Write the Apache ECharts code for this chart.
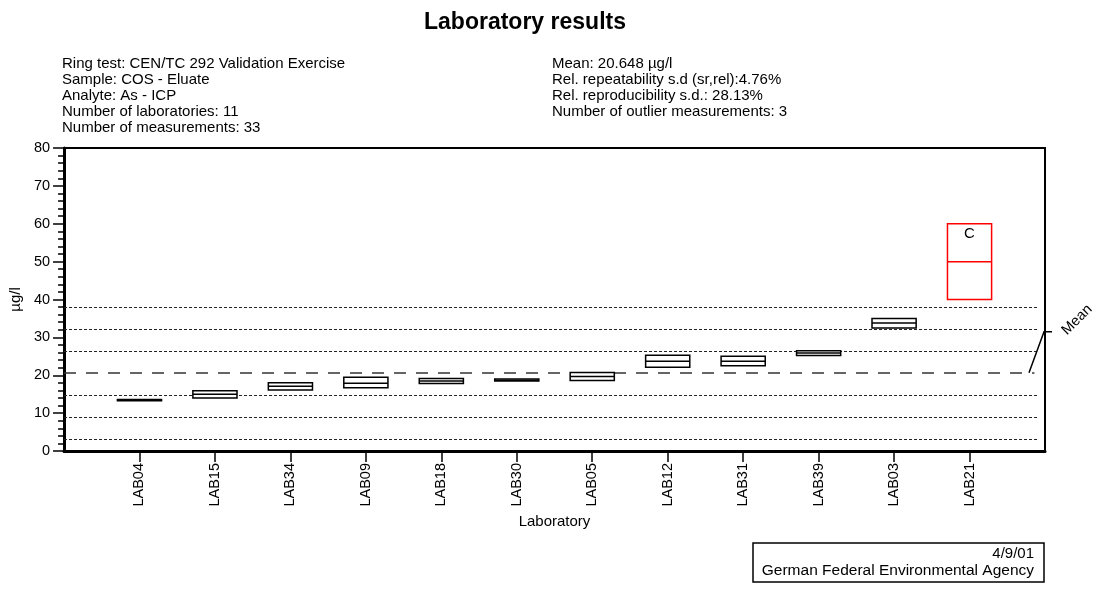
<!DOCTYPE html>
<html>
<head>
<meta charset="utf-8">
<script src="https://cdn.jsdelivr.net/npm/echarts@6/dist/echarts.min.js"></script>
<style>
  html, body { margin: 0; padding: 0; background: #fff; }
  #chart { width: 1120px; height: 599px; }
</style>
</head>
<body>
<div id="chart"></div>
<script>
// laboratories in plotted order
var labs = ['LAB04', 'LAB15', 'LAB34', 'LAB09', 'LAB18', 'LAB30', 'LAB05', 'LAB12', 'LAB31', 'LAB39', 'LAB03', 'LAB21'];
// box bottom / middle / top per lab (µg/l)
var lowVals  = [13.3, 14.0, 16.1, 16.7, 17.8, 18.5, 18.6, 22.1, 22.5, 25.2, 32.5, 40.0];
var midVals  = [13.45, 15.0, 17.1, 17.9, 18.5, 18.7, 19.7, 23.7, 23.7, 25.85, 33.8, 50.0];
var highVals = [13.6, 15.9, 18.0, 19.5, 19.15, 19.0, 20.7, 25.3, 25.0, 26.45, 35.0, 60.0];
// outlier flags (red box + letter)
var flags = ['', '', '', '', '', '', '', '', '', '', '', 'C'];
var MEAN = 20.648;
// dotted limit lines
var limitVals = [3.22, 9.03, 14.84, 26.46, 32.26, 38.07];
var yTicks = [0, 10, 20, 30, 40, 50, 60, 70, 80];

var FONT = 'Liberation Sans, Arial, sans-serif';
var labPos = labs.map(function (l, i) { return i + 1; });

var chart = echarts.init(document.getElementById('chart'));

function txt(s, size, extra) {
    var st = { text: s, fontSize: size, fontFamily: FONT, fill: '#000' };
    for (var k in extra) st[k] = extra[k];
    return st;
}

function renderBox(params, api) {
    var x = api.value(0);
    var pLow = api.coord([x, api.value(1)]);
    var pMid = api.coord([x, api.value(2)]);
    var pHigh = api.coord([x, api.value(3)]);
    var w = api.size([0.585, 0])[0];
    var flag = flags[params.dataIndex];
    var col = flag ? '#ff0000' : '#000';
    var kids = [
        {
            type: 'rect',
            shape: { x: pLow[0] - w / 2, y: pHigh[1], width: w, height: Math.max(pLow[1] - pHigh[1], 1) },
            style: { fill: '#fff', stroke: col, lineWidth: 1.5 }
        },
        {
            type: 'line',
            shape: { x1: pMid[0] - w / 2, y1: pMid[1], x2: pMid[0] + w / 2, y2: pMid[1] },
            style: { stroke: col, lineWidth: 1.5 }
        }
    ];
    if (flag) {
        kids.push({
            type: 'text',
            style: txt(flag, 15, { x: pHigh[0], y: pHigh[1] + 10, align: 'center', verticalAlign: 'middle' })
        });
    }
    return { type: 'group', children: kids };
}

var limitLines = limitVals.map(function (v) {
    return [{ coord: [0, v] }, { coord: [12.9, v] }];
});
limitLines.push([{ coord: [0, MEAN], lineStyle: { type: [12, 10], width: 1.5, color: '#333' } },
                 { coord: [12.86, MEAN] }]);

var option = {
    animation: false,
    backgroundColor: '#fff',
    grid: {
        left: 61, top: 148, width: 984, height: 303,
        show: true, borderColor: '#000', borderWidth: 2, backgroundColor: '#fff'
    },
    xAxis: {
        type: 'value', min: 0, max: 13,
        name: 'Laboratory', nameLocation: 'middle', nameGap: 62,
        nameTextStyle: { fontSize: 15, color: '#000', fontFamily: FONT },
        axisLine: { show: true, onZero: false, lineStyle: { color: '#000', width: 3 } },
        axisTick: { show: true, customValues: labPos, length: 11, lineStyle: { color: '#000', width: 1.5 } },
        axisLabel: {
            customValues: labPos, rotate: 90, margin: 12, fontSize: 14.5, color: '#000', fontFamily: FONT,
            formatter: function (v) { return labs[Math.round(v) - 1] || ''; }
        },
        splitLine: { show: false }
    },
    yAxis: {
        type: 'value', min: 0, max: 80, interval: 10,
        name: 'µg/l', nameLocation: 'middle', nameGap: 35, nameRotate: 90,
        nameTextStyle: { fontSize: 15, color: '#000', fontFamily: FONT },
        axisLine: { show: true, lineStyle: { color: '#000', width: 3 } },
        axisTick: { show: true, length: 11, lineStyle: { color: '#000', width: 1.5 } },
        minorTick: { show: true, splitNumber: 5, length: 6, lineStyle: { color: '#000', width: 1.5 } },
        axisLabel: { margin: 14, fontSize: 14.5, color: '#000', fontFamily: FONT,
                     customValues: yTicks },
        splitLine: { show: false },
        minorSplitLine: { show: false }
    },
    series: [{
        type: 'custom',
        renderItem: renderBox,
        data: labs.map(function (l, i) { return [i + 1, lowVals[i], midVals[i], highVals[i]]; }),
        z: 5,
        markLine: {
            silent: true, symbol: 'none', label: { show: false },
            lineStyle: { type: [3, 2], width: 1, color: '#222' },
            data: limitLines
        }
    }],
    graphic: [
        {
            id: 'title', type: 'text', x: 525, y: 23, z: 10,
            style: txt('Laboratory results', 23, { fontWeight: 'bold', align: 'center', verticalAlign: 'middle' })
        },
        {
            id: 'infoL', type: 'text', x: 62, y: 56, z: 10,
            style: txt('Ring test: CEN/TC 292 Validation Exercise\nSample: COS - Eluate\nAnalyte: As - ICP\n' +
                       'Number of laboratories: 11\nNumber of measurements: 33', 15, { lineHeight: 16 })
        },
        {
            id: 'infoR', type: 'text', x: 552, y: 56, z: 10,
            style: txt('Mean: 20.648 µg/l\nRel. repeatability s.d (sr,rel):4.76%\n' +
                       'Rel. reproducibility s.d.: 28.13%\nNumber of outlier measurements: 3', 15, { lineHeight: 16 })
        },
        {
            id: 'footBox', type: 'rect', z: 10,
            shape: { x: 753, y: 543, width: 291, height: 39 },
            style: { fill: '#fff', stroke: '#000', lineWidth: 1.5 }
        },
        {
            id: 'footDate', type: 'text', x: 1034, y: 554, z: 11,
            style: txt('4/9/01', 15, { align: 'right', verticalAlign: 'middle' })
        },
        {
            id: 'footOrg', type: 'text', x: 1034, y: 571, z: 11,
            style: txt('German Federal Environmental Agency', 15.5, { align: 'right', verticalAlign: 'middle' })
        }
    ]
};

chart.setOption(option);

// "Mean" pointer on the right edge, placed from the axis scale
var my = chart.convertToPixel({ yAxisIndex: 0 }, MEAN);
var gr = chart.convertToPixel({ xAxisIndex: 0 }, 13);
chart.setOption({
    graphic: [
        {
            id: 'meanPtr', type: 'polyline', z: 12,
            shape: { points: [[gr - 16, my], [gr - 1, my - 41], [gr + 7, my - 41]] },
            style: { stroke: '#000', lineWidth: 1.5, fill: null }
        },
        {
            id: 'meanTxt', type: 'text', x: gr + 32, y: my - 53, rotation: Math.PI / 4, z: 12,
            style: txt('Mean', 14.5, { align: 'center', verticalAlign: 'middle' })
        }
    ]
});
</script>
</body>
</html>
